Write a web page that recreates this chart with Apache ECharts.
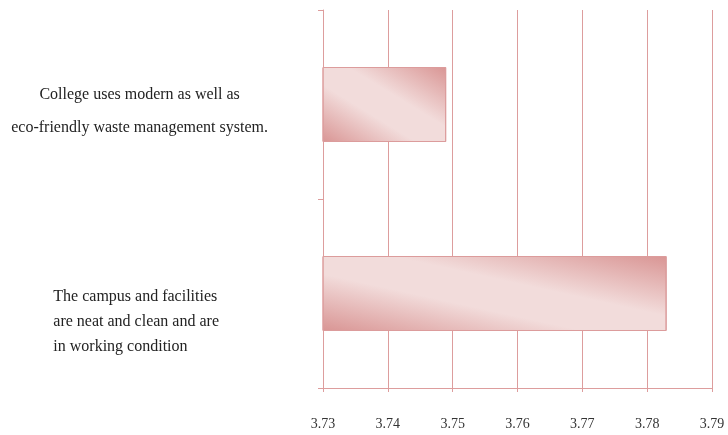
<!DOCTYPE html>
<html>
<head>
<meta charset="utf-8">
<script src="https://cdn.jsdelivr.net/npm/echarts@6/dist/echarts.min.js"></script>
<style>
html,body{margin:0;padding:0;background:#fff;}
#c{width:728px;height:435px;}
</style>
</head>
<body>
<div id="c"></div>
<script>
// Data
const categoryLines = [
  ['The campus and facilities', 'are neat and clean and are', 'in working condition'],
  ['College uses modern as well as', 'eco-friendly waste management system.']
];
const categories = categoryLines.map(l => l.join(' '));
const values = [3.783, 3.749];
const xMin = 3.73, xMax = 3.79, xStep = 0.01;

const chart = echarts.init(document.getElementById('c'));
const pink = '#dd9d9d';
const font = 'Liberation Serif';

function gradFor(w, h) {
  const L2 = w * w + h * h;
  const a = h * h / L2, b = w * w / L2;
  return new echarts.graphic.LinearGradient(0.5 - a, 0.5 + b, 0.5 + a, 0.5 - b, [
    { offset: 0, color: '#d99594' },
    { offset: 0.38, color: '#f2dcdb' },
    { offset: 0.6, color: '#f2dcdb' },
    { offset: 1, color: '#d99594' }
  ]);
}

const barH = 75;
const option = {
  animation: false,
  grid: { left: 323, right: 16, top: 10, bottom: 47, containLabel: false },
  xAxis: {
    type: 'value', min: xMin, max: xMax, interval: xStep,
    axisLine: { show: true, lineStyle: { color: pink, width: 1 } },
    axisTick: { show: true, length: 4, lineStyle: { color: pink } },
    splitLine: { show: true, lineStyle: { color: pink, width: 1 } },
    axisLabel: { margin: 29, fontSize: 14, fontFamily: font, color: '#333', formatter: v => v.toFixed(2) }
  },
  yAxis: {
    type: 'category',
    data: categories.map((c, i) => ({
      value: c,
      textStyle: { padding: i === 0 ? [57, 49, 0, 0] : [14, 0, 0, 0] }
    })),
    axisLine: { show: true, lineStyle: { color: pink, width: 1 } },
    axisTick: { show: true, length: 5, lineStyle: { color: pink } },
    splitLine: { show: false },
    axisLabel: {
      margin: 55, fontFamily: font, fontSize: 16, color: '#222', align: 'right',
      formatter: (val) => {
        const i = categories.indexOf(val);
        const tag = i === 0 ? 'l' : 'c';
        return categoryLines[i].map(s => '{' + tag + '|' + s + '}').join('\n');
      },
      rich: {
        l: { align: 'left', lineHeight: 25, fontFamily: font, fontSize: 16, color: '#222' },
        c: { align: 'center', lineHeight: 33, fontFamily: font, fontSize: 16, color: '#222' }
      }
    }
  },
  series: [{
    type: 'bar', barWidth: barH,
    data: values,
    itemStyle: { color: '#e8b8b8', borderColor: '#dc9c9c', borderWidth: 1 }
  }]
};
chart.setOption(option);

const x0 = chart.convertToPixel({ xAxisIndex: 0 }, xMin);
chart.setOption({
  series: [{
    data: values.map(v => {
      const w = chart.convertToPixel({ xAxisIndex: 0 }, v) - x0;
      return { value: v, itemStyle: { color: gradFor(w, barH) } };
    })
  }]
});
</script>
</body>
</html>
